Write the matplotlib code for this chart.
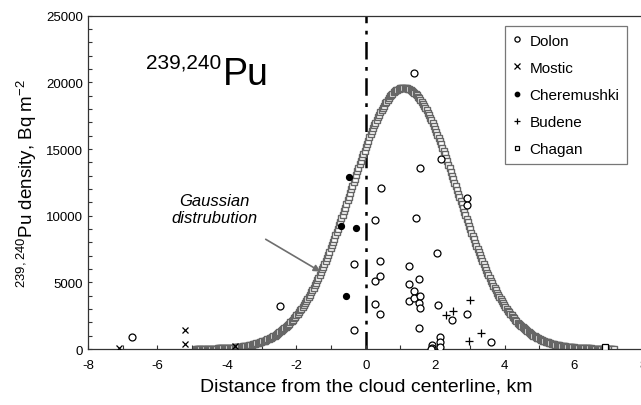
import numpy as np
import matplotlib
matplotlib.use("Agg")
from matplotlib import pyplot as plt

plt.rcParams["font.family"] = ["Liberation Sans", "DejaVu Sans"]
plt.rcParams["mathtext.fontset"] = "custom"
plt.rcParams["mathtext.rm"] = "Liberation Sans"
plt.rcParams["axes.unicode_minus"] = False

# measured deposition, Bq/m2, vs distance from the cloud centerline, km
dolon_x = [-6.73, -2.48, -0.33, -0.33, 0.26, 0.45, 0.26, 0.42, 0.42, 0.26, 0.42,
           1.38, 1.55, 1.45, 1.24, 1.24, 1.24, 1.38, 1.38, 1.53, 1.55, 1.52, 1.55,
           1.53, 2.16, 2.04, 2.09, 2.48, 2.91, 2.91, 2.91, 3.60, 2.13, 2.13, 2.13,
           1.90, 1.90, 1.88]
dolon_y = [875, 3250, 6350, 1400, 9675, 12050, 5100, 5450, 6625, 3350, 2625,
           20700, 13600, 9800, 6250, 4875, 3575, 4325, 3825, 5225, 3950, 3425, 3075,
           1600, 14250, 7175, 3325, 2150, 11300, 10800, 2600, 550, 875, 500, 175,
           300, 100, 0]

mostic_x = [-7.11, -5.22, -5.22, -3.78]
mostic_y = [100, 1425, 350, 250]

cherem_x = [-0.49, -0.70, -0.29, -0.58]
cherem_y = [12875, 9200, 9100, 3950]

budene_x = [2.99, 2.50, 2.31, 3.32, 2.98]
budene_y = [3700, 2850, 2575, 1200, 600]

chagan_x = [6.9]
chagan_y = [175]

# Gaussian fit parameters
gauss_peak = 19600
gauss_center = 1.1
gauss_sigma = 1.53
gauss_from, gauss_to, gauss_step = -4.9, 7.15, 0.035

xg = np.arange(gauss_from, gauss_to, gauss_step)
yg = gauss_peak * np.exp(-(xg - gauss_center) ** 2 / (2 * gauss_sigma ** 2))

fig = plt.figure(figsize=(6.41, 4.06), dpi=100)
ax = fig.add_axes([0.1373, 0.1379, 0.8666, 0.821])

ax.plot(xg, yg, ls="none", marker="s", ms=4.4, mfc="white", mec="#666666",
        mew=1.0, zorder=2)
ax.axvline(0, color="black", ls=(0, (7, 3, 1.5, 3)), lw=1.8, zorder=1)

ax.plot(dolon_x, dolon_y, ls="none", marker="o", ms=5, mfc="white", mec="black",
        mew=0.9, label="Dolon", zorder=3)
ax.plot(mostic_x, mostic_y, ls="none", marker="x", ms=5, color="black", mew=0.9,
        label="Mostic", zorder=3)
ax.plot(cherem_x, cherem_y, ls="none", marker="o", ms=4.2, color="black",
        label="Cheremushki", zorder=3)
ax.plot(budene_x, budene_y, ls="none", marker="+", ms=6, color="black", mew=0.9,
        label="Budene", zorder=3)
ax.plot(chagan_x, chagan_y, ls="none", marker="s", ms=4.5, mfc="white", mec="black",
        mew=0.9, label="Chagan", zorder=3)

ax.set_xlim(-8, 8)
ax.set_ylim(0, 25000)
ax.set_xticks(np.arange(-8, 9, 2))
ax.set_xticks(np.arange(-8, 9, 1), minor=True)
ax.set_yticks(np.arange(0, 25001, 5000))
ax.set_yticks(np.arange(0, 25001, 1000), minor=True)
ax.tick_params(which="both", direction="in", length=3, width=0.8, labelsize=9.5,
               colors="#333333", labelcolor="black")
ax.tick_params(axis="x", pad=7)
for s in ax.spines.values():
    s.set_color("#333333")
    s.set_linewidth(0.9)

ax.set_xlabel("Distance from the cloud centerline, km", fontsize=14, labelpad=5)
ax.set_ylabel("$^{239,240}$Pu density, Bq m$^{-2}$", fontsize=13.5, labelpad=5)

leg = ax.legend(loc="upper right", bbox_to_anchor=(0.970, 0.969), fontsize=11,
                frameon=True, fancybox=False, edgecolor="#555555",
                handlelength=0.6, handletextpad=0.5, labelspacing=0.86,
                borderpad=0.5, borderaxespad=0, markerscale=0.75)
leg.get_frame().set_linewidth(0.9)

ax.annotate("Gaussian\ndistrubution", xy=(-1.3, 5800), xytext=(-4.36, 10500),
            ha="center", va="center", fontsize=12, style="italic",
            arrowprops=dict(arrowstyle="-|>", color="#6e6e6e", lw=1.2,
                            shrinkA=16, shrinkB=0, mutation_scale=10))

fig.text(223 / 641, 1 - 85 / 406, "Pu", fontsize=27, ha="left", va="baseline")
fig.text(221 / 641, 1 - 68.5 / 406, "239,240", fontsize=15, ha="right",
         va="baseline")

fig.savefig("out.png", dpi=100)
